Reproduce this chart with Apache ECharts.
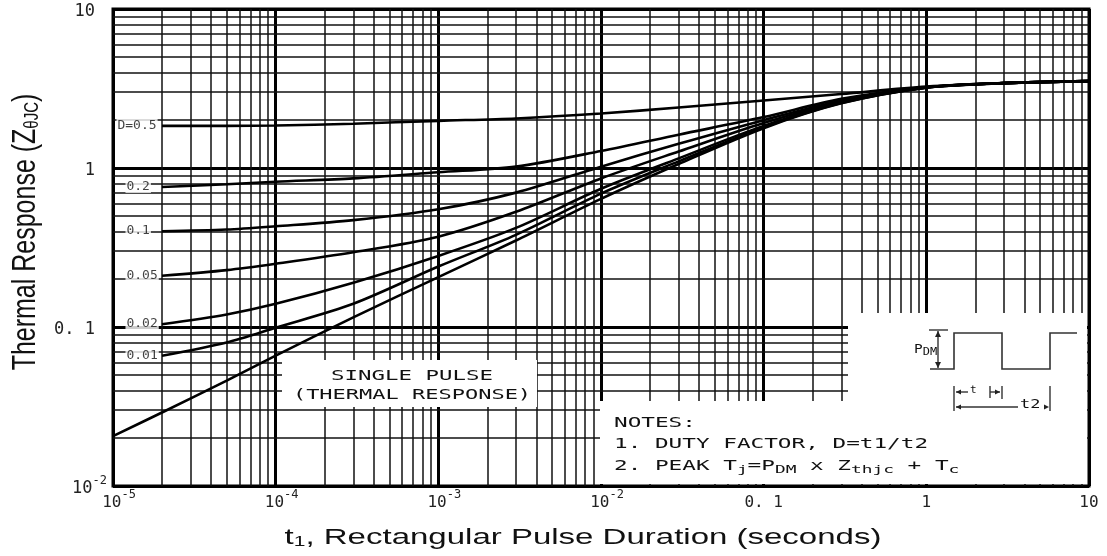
<!DOCTYPE html>
<html><head><meta charset="utf-8">
<script src="https://cdn.jsdelivr.net/npm/echarts@6/dist/echarts.min.js"></script>
<style>html,body{margin:0;padding:0;background:#fff}#c{width:1107px;height:556px}</style>
</head><body><div id="c"></div>
<script>
// ---- data ----
const tSingle = [1e-5, 2e-5, 5e-5, 1e-4, 3e-4, 1e-3, 3e-3, 1e-2, 3e-2, 0.1, 0.3, 1, 3, 10];
const zSingle = [0.0206, 0.029, 0.046, 0.066, 0.115, 0.206, 0.35, 0.64, 1.06, 1.78, 2.55, 3.2, 3.42, 3.52];
const tDuty = [2e-5, 5e-5, 1e-4, 3e-4, 1e-3, 3e-3, 1e-2, 3e-2, 0.1, 0.3, 1, 3, 10];
const zD05  = [1.84, 1.84, 1.85, 1.9, 1.98, 2.05, 2.2, 2.4, 2.66, 2.92, 3.25, 3.42, 3.52];
const zD02  = [0.76, 0.79, 0.82, 0.86, 0.94, 1.02, 1.28, 1.62, 2.09, 2.72, 3.22, 3.42, 3.52];
const zD01  = [0.40, 0.41, 0.43, 0.47, 0.55, 0.70, 1.02, 1.42, 2.0, 2.65, 3.22, 3.42, 3.52];
const zD005 = [0.21, 0.228, 0.25, 0.295, 0.37, 0.53, 0.86, 1.27, 1.92, 2.6, 3.21, 3.42, 3.52];
const zD002 = [0.104, 0.12, 0.14, 0.19, 0.28, 0.42, 0.74, 1.15, 1.84, 2.58, 3.21, 3.42, 3.52];
const zD001 = [0.066, 0.080, 0.099, 0.14, 0.24, 0.38, 0.69, 1.1, 1.8, 2.56, 3.2, 3.42, 3.52];
const dutyLabels = ['D=0.5', '0.2', '0.1', '0.05', '0.02', '0.01'];
const dutySeries = [zD05, zD02, zD01, zD005, zD002, zD001];

const xTickBase = ['10', '10', '10', '10', '0. 1', '1', '10'];   // exponents -5..1
const xTickSup  = ['-5', '-4', '-3', '-2', '', '', ''];
const yTickBase = ['10', '0. 1', '1', '10'];                     // exponents -2..1
const yTickSup  = ['-2', '', '', ''];
const xDecades = [1e-5, 1e-4, 1e-3, 1e-2, 0.1, 1];
const yDecades = [0.01, 0.1, 1];
const minorMult = [2, 3, 4, 5, 6, 7, 8, 9];

const MONO = '"DejaVu Sans Mono", "Liberation Mono", monospace';
const SANS = '"Liberation Sans", Arial, sans-serif';

const xMinor = [], yMinor = [];
xDecades.forEach(d => minorMult.forEach(m => xMinor.push(m * d)));
yDecades.forEach(d => minorMult.forEach(m => yMinor.push(m * d)));

function xFmt(v) {
  const i = Math.round(Math.log10(v)) + 5;
  if (i < 0 || i >= xTickBase.length) return '';
  return xTickSup[i] ? '{p|}{b|' + xTickBase[i] + '}{s|' + xTickSup[i] + '}' : '{b|' + xTickBase[i] + '}';
}
function yFmt(v) {
  const i = Math.round(Math.log10(v)) + 2;
  if (i < 0 || i >= yTickBase.length) return '';
  return yTickSup[i] ? '{b|' + yTickBase[i] + '}{s|' + yTickSup[i] + '}' : '{b|' + yTickBase[i] + '}{p|}';
}
const xRich = {
  b: { fontFamily: MONO, fontSize: 16, color: '#222', lineHeight: 22, verticalAlign: 'bottom' },
  s: { fontFamily: MONO, fontSize: 12, color: '#222', lineHeight: 12, verticalAlign: 'top' },
  p: { width: 12 }
};
const yRich = {
  b: { fontFamily: MONO, fontSize: 17, color: '#222', lineHeight: 22, verticalAlign: 'bottom' },
  s: { fontFamily: MONO, fontSize: 12, color: '#222', lineHeight: 12, verticalAlign: 'top' },
  p: { width: 12 }
};

const curveStyle = { color: '#000', width: 2.6 };
const series = [];
// minor grid of the log paper
series.push({
  type: 'line', data: [], z: 1, silent: true,
  markLine: {
    z: 1, silent: true, symbol: ['none', 'none'], label: { show: false }, animation: false, precision: 12,
    lineStyle: { color: '#111', width: 1.5, type: 'solid' },
    emphasis: { disabled: true },
    data: xMinor.map(v => ({ xAxis: v })).concat(yMinor.map(v => ({ yAxis: v })))
  }
});
series.push({
  name: 'single', type: 'line', z: 10, smooth: 0.3, showSymbol: false,
  lineStyle: curveStyle, data: tSingle.map((t, i) => [t, zSingle[i]])
});
dutySeries.forEach((arr, k) => {
  series.push({
    name: dutyLabels[k], type: 'line', z: 10, smooth: 0.3, showSymbol: false,
    lineStyle: curveStyle, data: tDuty.map((t, i) => [t, arr[i]])
  });
});
series.push({
  type: 'scatter', z: 11, symbolSize: 1, itemStyle: { color: 'rgba(0,0,0,0)' },
  data: dutySeries.map((arr, k) => ({
    value: [tDuty[0], arr[0]],
    label: {
      show: true, formatter: dutyLabels[k], position: [k === 0 ? -45 : -36, 0],
      align: 'left', verticalAlign: 'middle', fontFamily: MONO, fontSize: 13, color: '#111',
      backgroundColor: '#fff', padding: [0, 1, 0, 1]
    }
  }))
});

const mask = (x, y, w, h) => ({ type: 'rect', z: 5, shape: { x, y, width: w, height: h }, style: { fill: '#fff' }, silent: true });
const txt = (x, y, text, opt) => Object.assign({
  type: 'text', z: 6, x, y, silent: true,
  style: Object.assign({ text, font: '14px ' + MONO, fill: '#111', verticalAlign: 'middle' }, opt && opt.style)
}, opt && opt.el);
const ln = (pts, w) => ({ type: 'polyline', z: 6, silent: true, shape: { points: pts }, style: { stroke: '#333', lineWidth: w || 1.4, fill: null } });
const tri = (pts) => ({ type: 'polygon', z: 6, silent: true, shape: { points: pts }, style: { fill: '#222' } });

const graphic = [
  mask(282, 360, 255, 47),
  mask(848, 313, 239, 171),
  mask(600, 401, 487, 83),
  // single pulse label
  txt(412, 376, 'SINGLE PULSE', { style: { align: 'center' }, el: { scaleX: 1.6 } }),
  txt(412, 395, '(THERMAL RESPONSE)', { style: { align: 'center' }, el: { scaleX: 1.57 } }),
  // notes
  txt(614, 423, 'NOTES:', { el: { scaleX: 1.62 } }),
  txt(614, 444, '1. DUTY FACTOR, D=t1/t2', { el: { scaleX: 1.62 } }),
  txt(614, 466, '2. PEAK T{s|j}=P{s|DM} x Z{s|thjc} + T{s|c}', {
    el: { scaleX: 1.62 },
    style: { rich: { s: { font: '11px ' + MONO, fill: '#111', padding: [8, 0, 0, 0] } } }
  }),
  // pulse waveform
  ln([[930, 369], [954, 369], [954, 333], [1002, 333], [1002, 369], [1050, 369], [1050, 333], [1077, 333]], 1.6),
  ln([[929, 330], [948, 330]]),
  ln([[938, 331], [938, 368]]),
  tri([[935, 337], [941, 337], [938, 331]]),
  tri([[935, 362], [941, 362], [938, 368]]),
  txt(914, 350, 'P{s|DM}', { el: { scaleX: 1.2 }, style: { font: '12px ' + MONO, rich: { s: { font: '10px ' + MONO, fill: '#111', padding: [5, 0, 0, 0] } } } }),
  // t1 / t2 dimensions
  ln([[954, 386], [954, 411]]),
  ln([[1002, 386], [1002, 399]]),
  ln([[1050, 386], [1050, 411]]),
  ln([[956, 392], [968, 392]]),
  tri([[956, 392], [961, 389.5], [961, 394.5]]),
  txt(970, 390, 't', { style: { font: '11px ' + MONO } }),
  ln([[990, 386], [990, 398]]),
  ln([[990, 392], [1000, 392]]),
  tri([[1000, 392], [995, 389.5], [995, 394.5]]),
  ln([[956, 407], [1018, 407]]),
  tri([[956, 407], [961, 404.5], [961, 409.5]]),
  txt(1020, 405, 't2', { el: { scaleX: 1.3 }, style: { font: '13px ' + MONO } }),
  tri([[1049, 407], [1044, 404.5], [1044, 409.5]]),
  // axis titles
  txt(583, 538, 't{s|1}, Rectangular Pulse Duration (seconds)', {
    el: { scaleX: 1.5 },
    style: { align: 'center', font: '22px ' + SANS, fill: '#111', rich: { s: { font: '14px ' + SANS, fill: '#111', padding: [9, 0, 0, 0] } } }
  }),
  txt(26, 232, 'Thermal Response (Z{s|θJC})', {
    el: { rotation: Math.PI / 2, scaleY: 1.3 },
    style: { align: 'center', font: '25px ' + SANS, fill: '#111', rich: { s: { font: '15px ' + SANS, fill: '#111', padding: [10, 0, 0, 0] } } }
  })
];

const chart = echarts.init(document.getElementById('c'), null, { renderer: 'canvas' });
chart.setOption({
  animation: false,
  backgroundColor: '#fff',
  grid: { left: 113, right: 18, top: 9, bottom: 70, show: true, borderColor: '#000', borderWidth: 3, backgroundColor: 'transparent' },
  xAxis: {
    type: 'log', logBase: 10, min: 1e-5, max: 10,
    axisLine: { show: false }, axisTick: { show: false },
    splitLine: { show: true, lineStyle: { color: '#000', width: 3 } },
    axisLabel: { formatter: xFmt, rich: xRich, margin: 3, showMinLabel: true, showMaxLabel: true }
  },
  yAxis: {
    type: 'log', logBase: 10, min: 0.01, max: 10,
    axisLine: { show: false }, axisTick: { show: false },
    splitLine: { show: true, lineStyle: { color: '#000', width: 3 } },
    axisLabel: { formatter: yFmt, rich: yRich, margin: 6, showMinLabel: true, showMaxLabel: true }
  },
  series,
  graphic: { elements: graphic }
});
</script></body></html>
